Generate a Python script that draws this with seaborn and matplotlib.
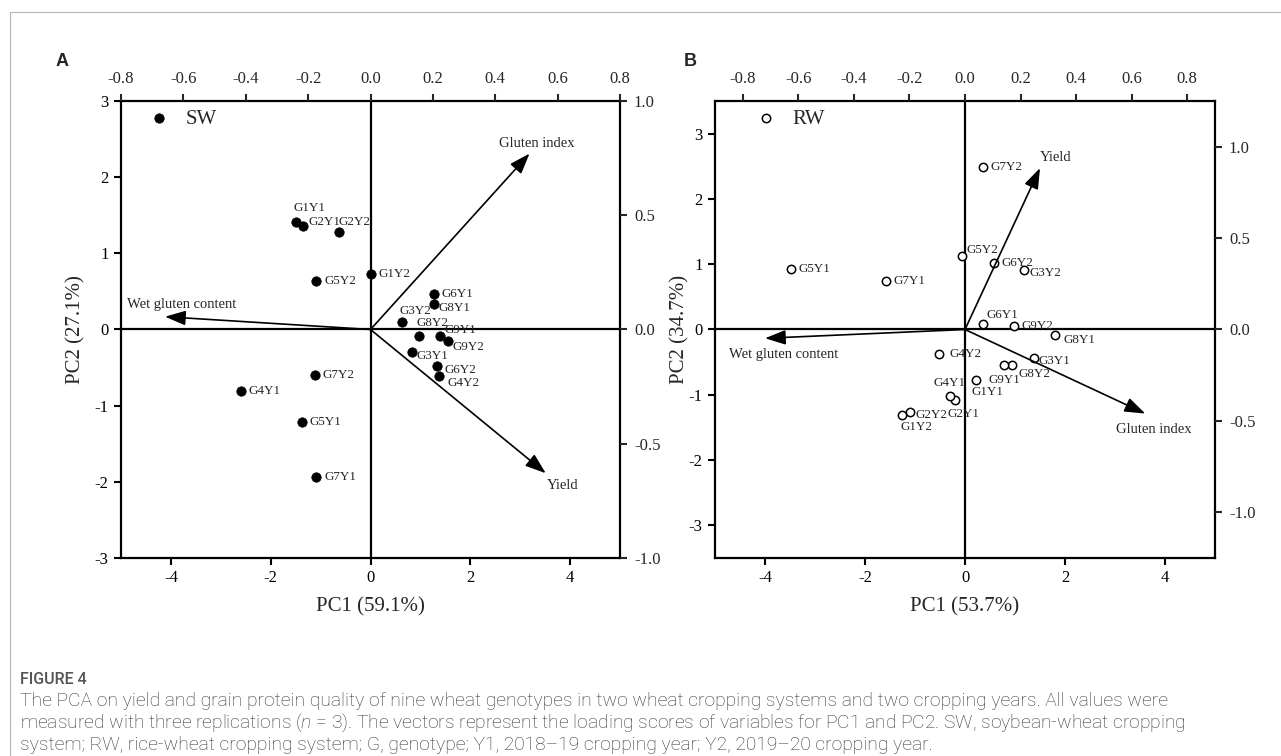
import matplotlib.pyplot as plt
import matplotlib.lines as mlines
import seaborn as sns
import pandas as pd

# PCA scores
genotypes = ["G1Y1", "G1Y2", "G2Y1", "G2Y2", "G3Y1", "G3Y2", "G4Y1", "G4Y2", "G5Y1",
             "G5Y2", "G6Y1", "G6Y2", "G7Y1", "G7Y2", "G8Y1", "G8Y2", "G9Y1", "G9Y2"]
sw_pc1 = [-1.50, 0.00, -1.35, -0.64, 0.83, 0.64, -2.60, 1.38, -1.38,
          -1.09, 1.27, 1.33, -1.09, -1.12, 1.27, 0.98, 1.40, 1.55]
sw_pc2 = [1.415, 0.73, 1.36, 1.28, -0.30, 0.094, -0.81, -0.61, -1.21,
          0.64, 0.46, -0.475, -1.94, -0.60, 0.335, -0.085, -0.085, -0.15]
rw_pc1 = [0.22, -1.27, -0.20, -1.11, 1.37, 1.18, -0.30, -0.53, -3.49,
          -0.07, 0.35, 0.57, -1.58, 0.35, 1.80, 0.93, 0.77, 0.98]
rw_pc2 = [-0.77, -1.31, -1.08, -1.26, -0.44, 0.91, -1.02, -0.38, 0.92,
          1.12, 0.08, 1.02, 0.75, 2.49, -0.09, -0.55, -0.55, 0.05]

# loadings (top / right axes)
variables = ["Yield", "Gluten index", "Wet gluten content"]
sw_load1 = [0.562, 0.51, -0.659]
sw_load2 = [-0.629, 0.77, 0.056]
rw_load1 = [0.27, 0.649, -0.72]
rw_load2 = [0.883, -0.46, -0.048]

# label placement (pixels: dx, dy)
sw_offsets = {
    "G1Y1": (-2, 14), "G2Y1": (5, 4), "G2Y2": (0, 10), "G3Y2": (-3, 11),
    "G8Y2": (-3, 13), "G9Y1": (4, 6), "G9Y2": (5, -6), "G3Y1": (5, -4),
    "G6Y2": (8, -4), "G4Y2": (8, -7), "G8Y1": (5, -4),
}
rw_offsets = {
    "G5Y2": (5, 6), "G6Y1": (4, 9), "G3Y2": (6, -3), "G8Y1": (8, -5),
    "G3Y1": (5, -3), "G9Y1": (-15, -15), "G8Y2": (7, -9), "G1Y1": (-5, -12),
    "G4Y1": (-17, 13), "G2Y1": (-7, -14), "G2Y2": (6, -3), "G1Y2": (-1, -12),
    "G4Y2": (11, 0),
}
sw_var_offsets = {"Yield": (17, -12, "center"), "Gluten index": (7, 10, "center"),
                  "Wet gluten content": (-38, 12, "left")}
rw_var_offsets = {"Yield": (0, 11, "left"), "Gluten index": (9, -16, "center"),
                  "Wet gluten content": (-36, -16, "left")}

sns.set_style("ticks")
plt.rcParams["font.family"] = ["Liberation Serif", "DejaVu Serif"]
plt.rcParams["axes.unicode_minus"] = False
plt.rcParams["mathtext.fontset"] = "custom"
plt.rcParams["mathtext.it"] = "Roboto:italic:light"
plt.rcParams["mathtext.rm"] = "Roboto:light"

fig = plt.figure(figsize=(12.81, 7.56), dpi=100)
PX = 72 / 100


def draw_panel(rect, pc1, pc2, load1, load2, offsets, var_offsets, system, filled,
               ylim, load_xlim, load_ylim, yticks, rticks, xlabel, ylabel):
    ax = fig.add_axes(rect)
    df = pd.DataFrame({"PC1": pc1, "PC2": pc2, "label": genotypes})
    if filled:
        sns.scatterplot(data=df, x="PC1", y="PC2", ax=ax, s=46, color="black",
                        edgecolor="black", linewidth=0.5, label=system, zorder=4)
    else:
        sns.scatterplot(data=df, x="PC1", y="PC2", ax=ax, s=36, facecolor="white",
                        edgecolor="black", linewidth=1.1, label=system, zorder=4)
    ax.axhline(0, color="black", lw=1.6, zorder=2)
    ax.axvline(0, color="black", lw=1.6, zorder=2)
    for _, r in df.iterrows():
        dx, dy = offsets.get(r["label"], (8, 0))
        ax.annotate(r["label"], (r["PC1"], r["PC2"]), xytext=(dx * PX, dy * PX),
                    textcoords="offset points", ha="left", va="center", fontsize=9.4,
                    zorder=5)
    ax.set_xlim(-5, 5)
    ax.set_ylim(*ylim)
    ax.set_xticks([-4, -2, 0, 2, 4])
    ax.set_yticks(yticks)
    ax.set_xlabel(xlabel, fontsize=15)
    ax.set_ylabel(ylabel, fontsize=15)
    ax.tick_params(direction="out", length=5, width=1.5, labelsize=12, pad=4,
                   colors="black")
    for s in ax.spines.values():
        s.set_linewidth(1.6)
        s.set_color("black")
    ax.legend(loc="upper left", bbox_to_anchor=(0.038 if filled else 0.064, 1.0),
              frameon=False, fontsize=15, handlelength=1.0, handletextpad=0.8,
              borderaxespad=0)

    # loading axes on top / right
    axl = fig.add_axes(rect)
    axl.patch.set_visible(False)
    for s in axl.spines.values():
        s.set_visible(False)
    axl.set_xlim(*load_xlim)
    axl.set_ylim(*load_ylim)
    axl.set_xticks([-0.8, -0.6, -0.4, -0.2, 0.0, 0.2, 0.4, 0.6, 0.8])
    axl.set_yticks(rticks)
    axl.xaxis.tick_top()
    axl.yaxis.tick_right()
    axl.xaxis.set_major_formatter(plt.FormatStrFormatter("%.1f"))
    axl.yaxis.set_major_formatter(plt.FormatStrFormatter("%.1f"))
    axl.tick_params(direction="out", length=5, width=1.5, labelsize=12, pad=5)
    for v, lx, ly in zip(variables, load1, load2):
        axl.annotate("", xy=(lx, ly), xytext=(0, 0),
                     arrowprops=dict(arrowstyle="-|>,head_length=0.9,head_width=0.32",
                                     mutation_scale=14, color="black", lw=1.2,
                                     shrinkA=0, shrinkB=0))
        dx, dy, ha = var_offsets[v]
        axl.annotate(v, (lx, ly), xytext=(dx * PX, dy * PX), textcoords="offset points",
                     ha=ha, va="center", fontsize=10.5)
    return ax, axl


axA, _ = draw_panel([121 / 1281, 198 / 756, 499 / 1281, 457 / 756],
                    sw_pc1, sw_pc2, sw_load1, sw_load2, sw_offsets, sw_var_offsets,
                    "SW", True, (-3, 3), (-0.8, 0.8), (-1, 1), [-3, -2, -1, 0, 1, 2, 3],
                    [-1.0, -0.5, 0.0, 0.5, 1.0], "PC1 (59.1%)", "PC2 (27.1%)")
axB, _ = draw_panel([715 / 1281, 198 / 756, 500 / 1281, 457 / 756],
                    rw_pc1, rw_pc2, rw_load1, rw_load2, rw_offsets, rw_var_offsets,
                    "RW", False, (-3.5, 3.5), (-0.9, 0.9), (-1.25, 1.25),
                    [-3, -2, -1, 0, 1, 2, 3], [-1.0, -0.5, 0.0, 0.5, 1.0],
                    "PC1 (53.7%)", "PC2 (34.7%)")
axA.yaxis.set_label_coords(-0.072, 0.5)
axB.yaxis.set_label_coords(-0.052, 0.5)
axA.xaxis.set_label_coords(0.5, -0.085)
axB.xaxis.set_label_coords(0.5, -0.085)

# panel letters
fig.text(62 / 1281, 1 - 62 / 756, "A", family="Liberation Sans", weight="bold",
         fontsize=13, ha="center", va="center")
fig.text(690 / 1281, 1 - 61 / 756, "B", family="Liberation Sans", weight="bold",
         fontsize=13, ha="center", va="center")

# caption
cap_font = ["Roboto", "DejaVu Sans"]
fig.text(20 / 1281, 1 - 680 / 756, "FIGURE 4", family=cap_font, fontsize=11.5,
         color="#555555", va="center", weight="medium")
caption = [
    "The PCA on yield and grain protein quality of nine wheat genotypes in two wheat cropping systems and two cropping years. All values were",
    "measured with three replications ($n$ = 3). The vectors represent the loading scores of variables for PC1 and PC2. SW, soybean-wheat cropping",
    "system; RW, rice-wheat cropping system; G, genotype; Y1, 2018\u201319 cropping year; Y2, 2019\u201320 cropping year.",
]
for i, line in enumerate(caption):
    fig.text(20 / 1281, 1 - (701 + 22 * i) / 756, line, family=cap_font, fontsize=13.9,
             color="#333333", va="center", weight="light")

# frame of the figure box
fig.add_artist(mlines.Line2D([10 / 1281, 10 / 1281], [0, 1 - 12 / 756],
                             transform=fig.transFigure, color="#b5b5b5", lw=0.8))
fig.add_artist(mlines.Line2D([10 / 1281, 1], [1 - 12 / 756, 1 - 12 / 756],
                             transform=fig.transFigure, color="#b5b5b5", lw=0.8))

fig.savefig("out.png", dpi=100)
